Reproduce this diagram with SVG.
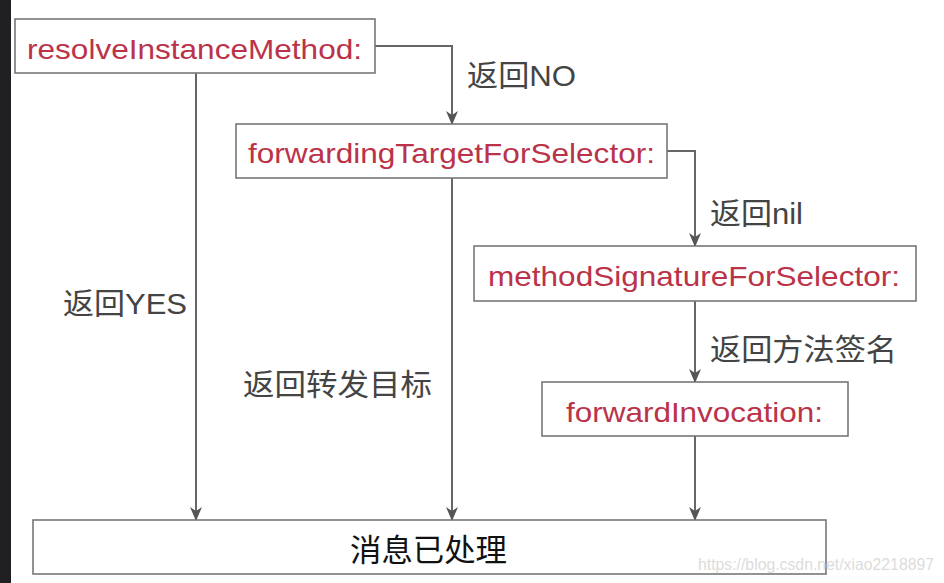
<svg xmlns="http://www.w3.org/2000/svg" width="944" height="583" viewBox="0 0 944 583">
<style>
.box{fill:#fff;stroke:#777;stroke-width:1.6}
.fn{font-family:"Liberation Sans","Noto Sans CJK SC",sans-serif;font-size:28.5px;fill:#bb3349}
.lbl{font-family:"Liberation Sans","Noto Sans CJK SC",sans-serif;font-size:30px;fill:#444}
.end{font-family:"Noto Sans CJK SC","Liberation Sans",sans-serif;font-size:31px;fill:#111}
.wire{fill:none;stroke:#666;stroke-width:2}
.wm{font-family:"Liberation Sans",sans-serif;font-size:17px;fill:#dcdcdc}
</style>
<defs>
<marker id="ah" viewBox="0 0 14 12" refX="13" refY="6" markerWidth="14" markerHeight="12" markerUnits="userSpaceOnUse" orient="auto">
<path d="M0,0 L14,6 L0,12 L4,6 Z" fill="#555"/>
</marker>
</defs>
<rect x="0" y="0" width="944" height="583" fill="#fff"/>
<rect x="0" y="0" width="11" height="583" fill="#202022"/>
<g id="connectors">
<path class="wire" d="M375,46 H452 V124" marker-end="url(#ah)"/>
<path class="wire" d="M196,73 V520" marker-end="url(#ah)"/>
<path class="wire" d="M452,178 V520" marker-end="url(#ah)"/>
<path class="wire" d="M667,151 H695 V246" marker-end="url(#ah)"/>
<path class="wire" d="M695,301 V382" marker-end="url(#ah)"/>
<path class="wire" d="M695,436 V520" marker-end="url(#ah)"/>
<text class="lbl" x="467" y="86" textLength="109" lengthAdjust="spacingAndGlyphs">返回NO</text>
<text class="lbl" x="710" y="224" textLength="93" lengthAdjust="spacingAndGlyphs">返回nil</text>
<text class="lbl" x="710" y="360" textLength="187" lengthAdjust="spacingAndGlyphs">返回方法签名</text>
<text class="lbl" x="63" y="314" textLength="124" lengthAdjust="spacingAndGlyphs">返回YES</text>
<text class="lbl" x="243" y="395" textLength="189" lengthAdjust="spacingAndGlyphs">返回转发目标</text>
</g>
<g id="resolveInstanceMethod">
<rect class="box" x="15" y="19" width="360" height="54"/>
<text class="fn" x="27" y="59" textLength="335" lengthAdjust="spacingAndGlyphs">resolveInstanceMethod:</text>
</g>
<g id="forwardingTargetForSelector">
<rect class="box" x="236" y="124" width="431" height="54"/>
<text class="fn" x="248" y="163" textLength="407" lengthAdjust="spacingAndGlyphs">forwardingTargetForSelector:</text>
</g>
<g id="methodSignatureForSelector">
<rect class="box" x="474" y="246" width="442" height="55"/>
<text class="fn" x="488" y="286" textLength="412" lengthAdjust="spacingAndGlyphs">methodSignatureForSelector:</text>
</g>
<g id="forwardInvocation">
<rect class="box" x="542" y="382" width="306" height="54"/>
<text class="fn" x="566" y="422" textLength="257" lengthAdjust="spacingAndGlyphs">forwardInvocation:</text>
</g>
<g id="handled">
<rect class="box" x="33" y="520" width="793" height="54"/>
<text class="end" x="350" y="561" textLength="157" lengthAdjust="spacingAndGlyphs">消息已处理</text>
</g>
<text class="wm" x="698" y="570" textLength="236" lengthAdjust="spacingAndGlyphs">https://blog.csdn.net/xiao2218897</text>
</svg>
